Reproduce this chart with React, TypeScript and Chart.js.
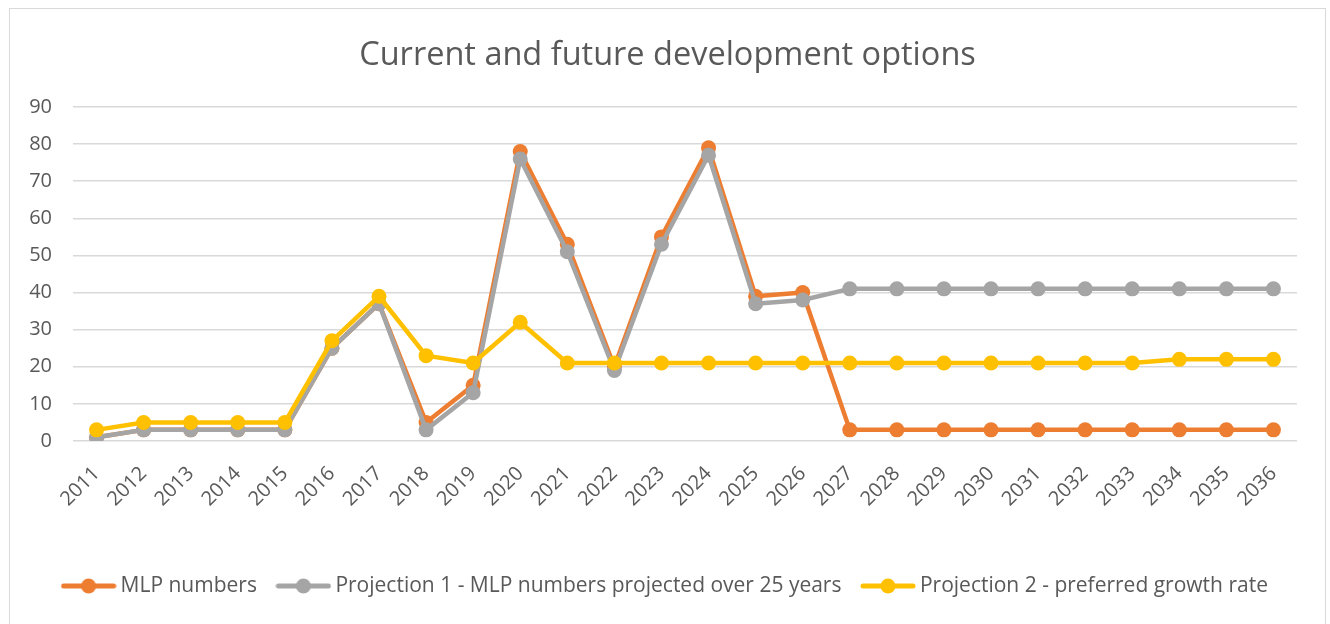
import React, { useEffect, useRef } from "react";
import { Chart, registerables } from "chart.js";

Chart.register(...registerables);

const years = [
  "2011", "2012", "2013", "2014", "2015", "2016", "2017", "2018", "2019", "2020",
  "2021", "2022", "2023", "2024", "2025", "2026", "2027", "2028", "2029", "2030",
  "2031", "2032", "2033", "2034", "2035", "2036",
];

const mlpNumbers = [1, 3, 3, 3, 3, 25, 37, 5, 15, 78, 53, 20, 55, 79, 39, 40, 3, 3, 3, 3, 3, 3, 3, 3, 3, 3];
const projection1 = [1, 3, 3, 3, 3, 25, 37, 3, 13, 76, 51, 19, 53, 77, 37, 38, 41, 41, 41, 41, 41, 41, 41, 41, 41, 41];
const projection2 = [3, 5, 5, 5, 5, 27, 39, 23, 21, 32, 21, 21, 21, 21, 21, 21, 21, 21, 21, 21, 21, 21, 21, 22, 22, 22];

const seriesNames = [
  "MLP numbers",
  "Projection 1 - MLP numbers projected over 25 years",
  "Projection 2 - preferred growth rate",
];
const seriesColors = ["#ED7D31", "#A5A5A5", "#FFC000"];

const FONT = "'Open Sans', sans-serif";
const TEXT = "#595959";

function legendIcon(color: string): HTMLCanvasElement {
  const c = document.createElement("canvas");
  c.width = 56;
  c.height = 16;
  const ctx = c.getContext("2d")!;
  ctx.strokeStyle = color;
  ctx.lineWidth = 5;
  ctx.lineCap = "round";
  ctx.beginPath();
  ctx.moveTo(3, 8);
  ctx.lineTo(53, 8);
  ctx.stroke();
  ctx.fillStyle = color;
  ctx.beginPath();
  ctx.arc(28, 8, 7.5, 0, Math.PI * 2);
  ctx.fill();
  return c;
}

export default function App() {
  const ref = useRef<HTMLCanvasElement | null>(null);

  useEffect(() => {
    if (!ref.current) return;
    const icons = seriesColors.map(legendIcon);
    const values = [mlpNumbers, projection1, projection2];
    const chart = new Chart(ref.current, {
      type: "line",
      data: {
        labels: years,
        datasets: values.map((v, i) => ({
          label: seriesNames[i],
          data: v,
          borderColor: seriesColors[i],
          backgroundColor: seriesColors[i],
          borderWidth: 4.5,
          pointRadius: 7.5,
          pointBorderWidth: 0,
          pointHoverRadius: 7.5,
          tension: 0,
          order: 3 - i,
          borderJoinStyle: "round" as const,
          yAxisID: "y",
        })),
      },
      options: {
        responsive: false,
        devicePixelRatio: 1,
        animation: false,
        layout: { padding: { left: 0, right: 0, top: 0, bottom: 18.5 } },
        plugins: {
          title: {
            display: true,
            text: "Current and future development options",
            color: TEXT,
            font: { family: FONT, size: 32.5, weight: "normal", lineHeight: 1.2 },
            padding: { top: 27, bottom: 32 },
          },
          legend: {
            position: "bottom",
            labels: {
              usePointStyle: true,
              pointStyleWidth: 43,
              padding: 25,
              color: TEXT,
              font: { family: FONT, size: 21 },
              generateLabels: (ch: any) =>
                ch.data.datasets.map((ds: any, i: number) => ({
                  text: ds.label,
                  fillStyle: seriesColors[i],
                  strokeStyle: seriesColors[i],
                  lineWidth: 0,
                  pointStyle: icons[i],
                  hidden: false,
                  datasetIndex: i,
                  fontColor: TEXT,
                })),
            },
          },
          tooltip: { enabled: false },
        },
        scales: {
          x: {
            offset: true,
            grid: { display: false },
            border: { display: false },
            ticks: {
              color: TEXT,
              font: { family: FONT, size: 20 },
              minRotation: 45,
              maxRotation: 45,
              autoSkip: false,
              padding: 13,
            },
            afterFit: (s: any) => {
              s.height = 109.5;
            },
          },
          y: {
            min: 0,
            max: 90,
            grid: { color: "#D9D9D9", lineWidth: 1.5, drawTicks: false },
            border: { display: false },
            ticks: {
              stepSize: 10,
              color: TEXT,
              font: { family: FONT, size: 20 },
              padding: 21,
            },
            afterFit: (s: any) => {
              s.width = 63;
            },
          },
          yRight: {
            position: "right",
            display: true,
            grid: { display: false },
            border: { display: false },
            ticks: { display: false },
            afterFit: (s: any) => {
              s.width = 28;
            },
          },
        },
      },
    });
    return () => chart.destroy();
  }, []);

  return (
    <div style={{ position: "fixed", left: 0, top: 0, width: 1330, height: 624, background: "#fff", overflow: "hidden" }}>
      <div
        style={{
          position: "absolute",
          left: 9,
          top: 8,
          width: 1315,
          height: 640,
          border: "1px solid #D9D9D9",
          background: "#fff",
        }}
      >
        <canvas ref={ref} width={1315} height={616} style={{ display: "block", width: 1315, height: 616 }} />
      </div>
    </div>
  );
}
